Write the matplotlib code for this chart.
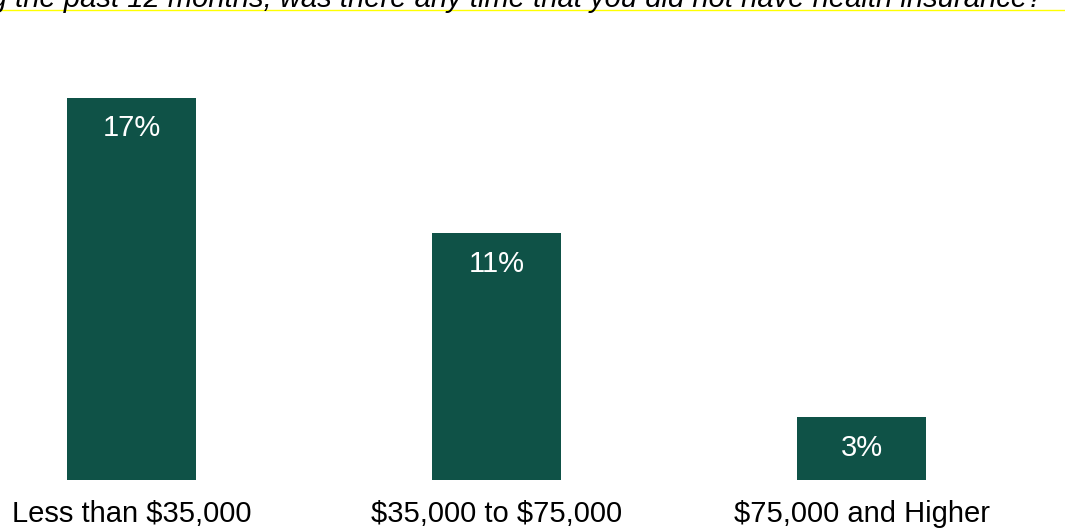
import matplotlib.pyplot as plt

# Data
categories = ['Less than \\$35,000', '\\$35,000 to \\$75,000', '\\$75,000 and Higher']
values = [17, 11, 2.8]
value_labels = ['17%', '11%', '3%']
title = 'During the past 12 months, was there any time that you did not have health insurance?'

plt.rcParams['font.family'] = ['Liberation Sans', 'DejaVu Sans']

W, H = 1065, 531
fig = plt.figure(figsize=(W / 100, H / 100), dpi=100)

# axes span full width, from the baseline (y=480px) to the top
ax = fig.add_axes([0, (H - 480) / H, 1, 480 / H])
ax.set_xlim(-131.5 / 365, (W - 131.5) / 365)
ax.set_ylim(0, 480 / 22.5)

x = range(len(categories))
bars = ax.bar(x, values, width=129 / 365, color='#0F5247')

for b, lab in zip(bars, value_labels):
    ax.text(b.get_x() + b.get_width() / 2, b.get_height() - 31 / 22.5, lab,
            ha='center', va='center', color='white', fontsize=21)

for i, c in enumerate(categories):
    fig.text((131.5 + 365 * i) / W, 1 - 514 / H, c, ha='center', va='center', fontsize=21)

ax.axis('off')

# clipped italic title and thin yellow rule
fig.text(1043 / W, 1 - 7 / H, title, ha='right', va='baseline', fontsize=21, style='italic')
fig.add_artist(plt.Line2D([0, 1], [1 - 9.5 / H, 1 - 9.5 / H], color='#FFFF00', lw=1))

fig.savefig('out.png', dpi=100)
